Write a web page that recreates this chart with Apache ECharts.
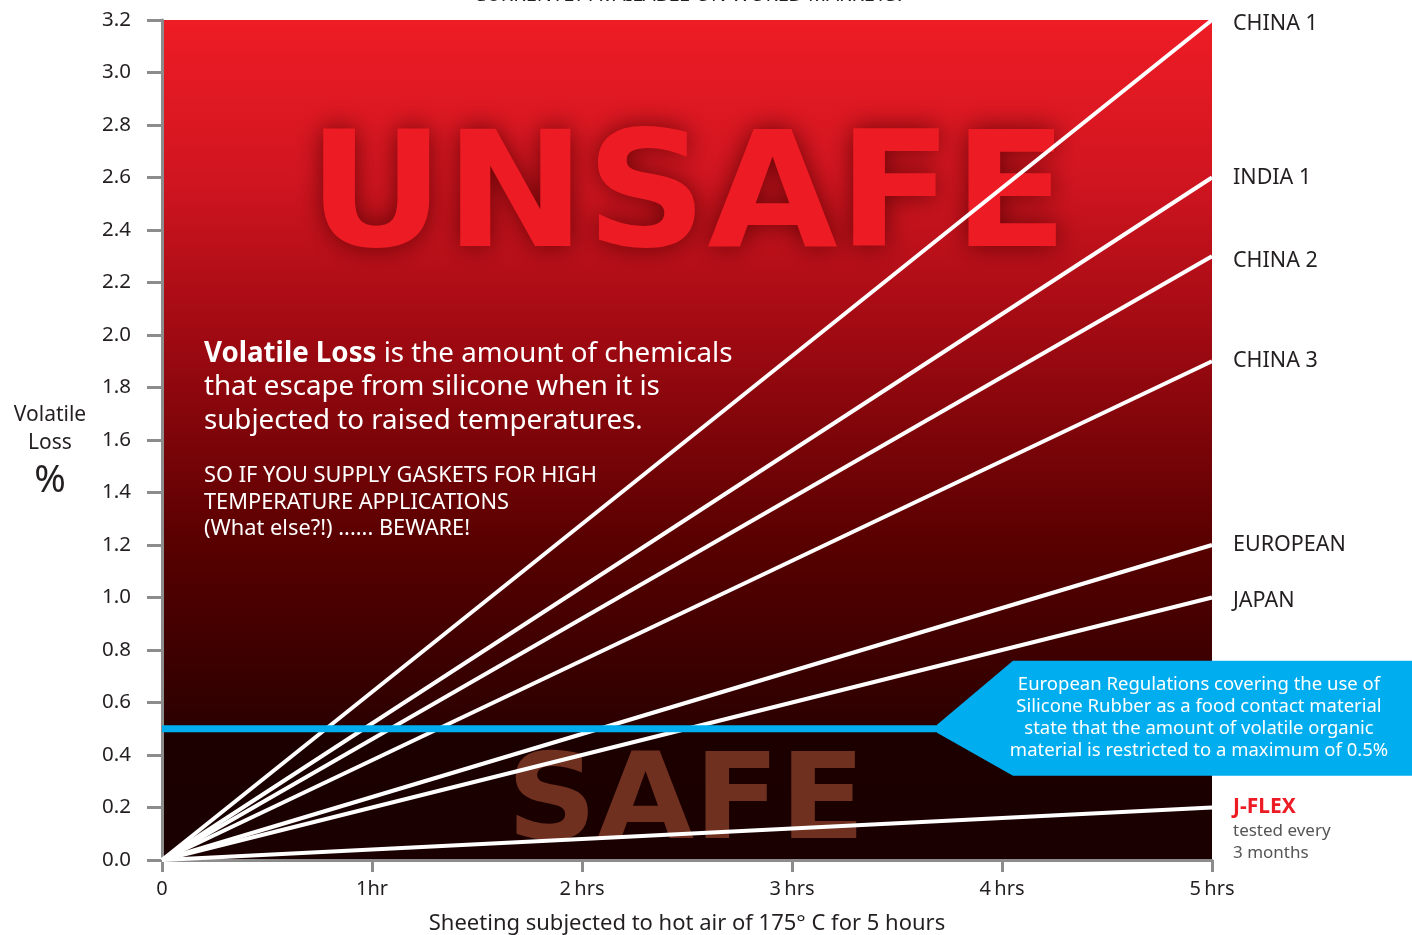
<!DOCTYPE html>
<html>
<head>
<meta charset="utf-8">
<script src="https://cdn.jsdelivr.net/npm/echarts@6/dist/echarts.min.js"></script>
<style>
  html, body { margin: 0; padding: 0; background: #fff; }
  #chart { width: 1412px; height: 935px; }
</style>
</head>
<body>
<div id="chart"></div>
<script>
// data
const hours = [0, 5]
const seriesNames = ['CHINA 1', 'INDIA 1', 'CHINA 2', 'CHINA 3', 'EUROPEAN', 'JAPAN', 'J-FLEX']
const lossAt5hrs = [3.2, 2.6, 2.3, 1.9, 1.2, 1.0, 0.2]
const limitHours = [0, 3.7]
const limitValue = 0.5
const xTickLabels = ['0', '1hr', '2\u2009hrs', '3\u2009hrs', '4\u2009hrs', '5\u2009hrs']

const FONT = '"Noto Sans", "Open Sans", sans-serif'
const AXIS_GREY = '#8c8c8c'
const INK = '#231f20'

// small nudges so the end labels sit where the original puts them
const labelNudge = { 'CHINA 1': 4, 'CHINA 2': 5, 'JAPAN': 3, 'J-FLEX': 22 }

const chart = echarts.init(document.getElementById('chart'))

const lineSeries = seriesNames.map((name, i) => {
    const isJflex = name === 'J-FLEX'
    return {
        name: name,
        type: 'line',
        z: 3,
        symbol: 'none',
        silent: true,
        data: hours.map((h, j) => [h, j === 0 ? 0 : lossAt5hrs[i]]),
        lineStyle: { color: '#ffffff', width: 4 },
        endLabel: {
            show: true,
            distance: 21,
            offset: [0, labelNudge[name] || 0],
            fontFamily: FONT,
            fontSize: 21.5,
            color: INK,
            formatter: isJflex
                ? '{j|J-FLEX}\n{t|tested every}\n{t|3 months}'
                : name,
            rich: {
                j: { color: '#ed1c24', fontWeight: 'bold', fontSize: 21, lineHeight: 26, fontFamily: FONT },
                t: { color: '#555555', fontSize: 17, lineHeight: 22, fontFamily: FONT }
            }
        }
    }
})

const option = {
    animation: false,
    textStyle: { fontFamily: FONT },
    grid: {
        left: 162,
        right: 200,
        top: 20,
        bottom: 75,
        containLabel: false,
        outerBoundsMode: 'none',
        show: true,
        borderWidth: 0,
        backgroundColor: new echarts.graphic.LinearGradient(0, 0, 0, 1, [
            { offset: 0, color: '#ee1c25' },
            { offset: 0.19, color: '#d01520' },
            { offset: 0.39, color: '#9c0911' },
            { offset: 0.62, color: '#590000' },
            { offset: 0.843, color: '#2c0000' },
            { offset: 0.846, color: '#1c0000' },
            { offset: 1, color: '#1a0000' }
        ])
    },
    xAxis: {
        type: 'value',
        min: 0,
        max: 5,
        interval: 1,
        name: 'Sheeting subjected to hot air of 175\u00b0 C for 5 hours',
        nameLocation: 'middle',
        nameGap: 53,
        nameTextStyle: { color: INK, fontSize: 22, fontFamily: FONT },
        splitLine: { show: false },
        axisLine: { lineStyle: { color: AXIS_GREY, width: 3 } },
        axisTick: { length: 12, lineStyle: { color: AXIS_GREY, width: 3 } },
        axisLabel: {
            color: INK,
            fontSize: 20,
            margin: 19,
            formatter: v => xTickLabels[Math.round(v)]
        }
    },
    yAxis: {
        type: 'value',
        min: 0,
        max: 3.2,
        interval: 0.2,
        name: '{a|Volatile}\n{a|Loss}\n{p|%}',
        nameLocation: 'middle',
        nameRotate: 0,
        nameGap: 112,
        nameTextStyle: {
            align: 'center',
            padding: [26, 0, 0, 0],
            rich: {
                a: { color: INK, fontSize: 21, lineHeight: 28, align: 'center', fontFamily: FONT },
                p: { color: INK, fontSize: 38, lineHeight: 48, align: 'center', fontFamily: FONT }
            }
        },
        splitLine: { show: false },
        axisLine: { show: true, lineStyle: { color: AXIS_GREY, width: 3 } },
        axisTick: { show: true, length: 15, lineStyle: { color: AXIS_GREY, width: 3 } },
        axisLabel: {
            color: INK,
            fontSize: 20.5,
            margin: 31,
            formatter: v => v.toFixed(1)
        }
    },
    series: [
        ...lineSeries,
        {
            name: 'limit',
            type: 'line',
            z: 4,
            symbol: 'none',
            silent: true,
            data: limitHours.map(h => [h, limitValue]),
            lineStyle: { color: '#00aeef', width: 7 }
        }
    ]
}

chart.setOption(option)

// annotations, the callout anchored on the end of the 0.5% line
const tip = chart.convertToPixel({ gridIndex: 0 }, [limitHours[1], limitValue])
const tx = tip[0]
const ty = tip[1]

chart.setOption({
    graphic: [
        {
            type: 'text',
            z: 1,
            silent: true,
            style: {
                text: 'CURRENTLY AVAILABLE ON WORLD MARKETS.',
                x: 688,
                y: 5,
                textAlign: 'center',
                textVerticalAlign: 'bottom',
                fill: INK,
                font: '20px ' + FONT
            }
        },
        {
            type: 'text',
            z: 1,
            silent: true,
            x: 688,
            y: 204,
            scaleX: 1.054,
            style: {
                text: 'UNSAFE',
                x: 0,
                y: 0,
                textAlign: 'center',
                textVerticalAlign: 'middle',
                fill: '#ed1c24',
                font: 'bold 160px "DejaVu Sans", sans-serif',
                shadowBlur: 26,
                shadowColor: 'rgba(80, 0, 0, 0.8)',
                textShadowBlur: 26,
                textShadowColor: 'rgba(80, 0, 0, 0.8)'
            }
        },
        {
            type: 'text',
            z: 1,
            silent: true,
            x: 686,
            y: 807,
            scaleX: 1.045,
            style: {
                text: 'SAFE',
                x: 0,
                y: 0,
                textAlign: 'center',
                textVerticalAlign: 'middle',
                fill: '#6f3020',
                font: 'bold 120px "DejaVu Sans", sans-serif'
            }
        },
        {
            type: 'text',
            z: 1,
            silent: true,
            style: {
                text: '{b|Volatile Loss}{n| is the amount of chemicals}\n{n|that escape from silicone when it is}\n{n|subjected to raised temperatures.}',
                x: 204,
                y: 337,
                fill: '#ffffff',
                rich: {
                    b: { fill: '#ffffff', fontWeight: 'bold', fontSize: 27.7, lineHeight: 33.5, fontFamily: FONT },
                    n: { fill: '#ffffff', fontSize: 27.7, lineHeight: 33.5, fontFamily: FONT }
                }
            }
        },
        {
            type: 'text',
            z: 1,
            silent: true,
            style: {
                text: 'SO IF YOU SUPPLY GASKETS FOR HIGH\nTEMPERATURE APPLICATIONS\n(What else?!) ...... BEWARE!',
                x: 204,
                y: 463,
                fill: '#ffffff',
                font: '21.8px ' + FONT,
                lineHeight: 26.5
            }
        },
        {
            type: 'polygon',
            z: 5,
            silent: true,
            shape: {
                points: [
                    [tx - 2, ty - 4],
                    [tx + 74, ty - 68],
                    [1412, ty - 68],
                    [1412, ty + 47],
                    [tx + 74, ty + 47],
                    [tx - 2, ty + 4]
                ]
            },
            style: { fill: '#00aeef' }
        },
        {
            type: 'text',
            z: 6,
            silent: true,
            style: {
                text: 'European Regulations covering the use of\nSilicone Rubber as a food contact material\nstate that the amount of volatile organic\nmaterial is restricted to a maximum of 0.5%',
                x: 1199,
                y: ty - 11,
                textAlign: 'center',
                textVerticalAlign: 'middle',
                fill: '#ffffff',
                font: '18.5px ' + FONT,
                lineHeight: 22
            }
        }
    ]
})

window.addEventListener('resize', () => chart.resize())
</script>
</body>
</html>
